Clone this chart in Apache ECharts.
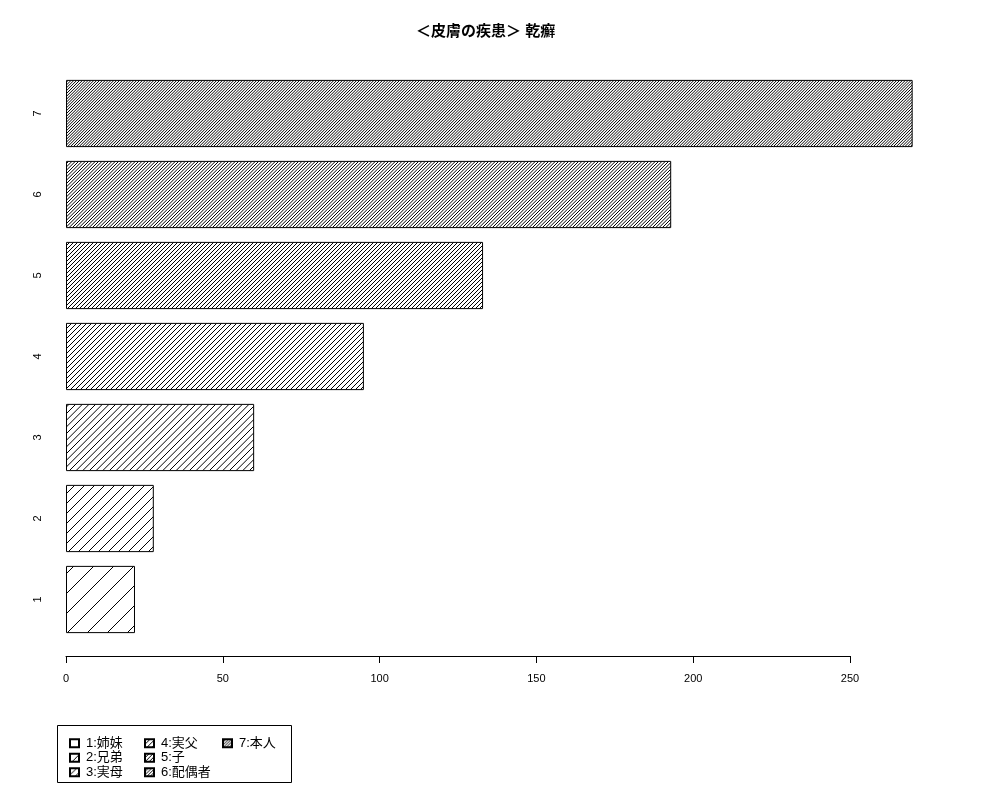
<!DOCTYPE html>
<html lang="ja">
<head>
<meta charset="UTF-8">
<title>皮膚の疾患 乾癬</title>
<script src="https://cdn.jsdelivr.net/npm/echarts@6/dist/echarts.min.js"></script>
<style>
  html, body { margin: 0; padding: 0; background: #fff; }
  #main { width: 1000px; height: 800px; }
</style>
</head>
<body>
<div id="main"></div>
<script>
var categories = ['1', '2', '3', '4', '5', '6', '7'];
var groupNames = ['1:姉妹', '2:兄弟', '3:実母', '4:実父', '5:子', '6:配偶者', '7:本人'];
var counts = [22, 28, 60, 95, 133, 193, 270];
var xTicks = [0, 50, 100, 150, 200, 250];

var FONT = '"Liberation Sans", "Noto Sans CJK JP", sans-serif';

// hatch tile: k diagonal lines per 20px
function hatch(k) {
  var s = 20;
  var c = document.createElement('canvas');
  c.width = s; c.height = s;
  var ctx = c.getContext('2d');
  ctx.fillStyle = '#fff';
  ctx.fillRect(0, 0, s, s);
  ctx.strokeStyle = '#000';
  ctx.lineWidth = 1;
  for (var i = 0; i < k; i++) {
    var o = i * s / k;
    [o, o + s, o + 2 * s].forEach(function (cc) {
      ctx.beginPath();
      ctx.moveTo(cc + 1, -1);
      ctx.lineTo(cc - s - 1, s + 1);
      ctx.stroke();
    });
  }
  return { image: c, repeat: 'repeat' };
}

var series = groupNames.map(function (name, idx) {
  return {
    name: name,
    type: 'bar',
    stack: 'all',
    xAxisIndex: 0,
    yAxisIndex: 0,
    barCategoryGap: '17%',
    itemStyle: { color: hatch(idx + 1), borderColor: '#000', borderWidth: 1 },
    emphasis: { disabled: true },
    data: counts.map(function (v, j) { return j === idx ? v : '-'; })
  };
});

function legendCol(items, left) {
  return {
    data: items,
    orient: 'vertical',
    left: left,
    top: 731,
    itemGap: 0,
    itemWidth: 9,
    itemHeight: 8,
    icon: 'rect',
    selectedMode: false,
    textStyle: { color: '#000', fontSize: 13, lineHeight: 14.5, fontFamily: FONT, padding: [0, 0, 0, 2] }
  };
}

var chart = echarts.init(document.getElementById('main'));
chart.setOption({
  animation: false,
  backgroundColor: '#fff',
  title: {
    text: '＜皮膚の疾患＞ 乾癬',
    left: 411,
    top: 19,
    textStyle: { color: '#000', fontSize: 15, fontWeight: 'bold', fontFamily: FONT }
  },
  legend: [
    legendCol(groupNames.slice(0, 3), 64),
    legendCol(groupNames.slice(3, 6), 139),
    legendCol(groupNames.slice(6), 217)
  ],
  grid: [
    { left: 66, top: 73, width: 878, height: 567 },
    { left: 66, top: 73, width: 784, height: 583 }
  ],
  xAxis: [
    { type: 'value', gridIndex: 0, min: 0, max: 280, show: false },
    {
      type: 'value', gridIndex: 1, min: xTicks[0], max: xTicks[xTicks.length - 1],
      interval: xTicks[1] - xTicks[0],
      axisLine: { show: true, lineStyle: { color: '#000', width: 1 } },
      axisTick: { show: true, length: 7, lineStyle: { color: '#000' } },
      axisLabel: { color: '#000', fontSize: 11, fontFamily: FONT, margin: 17 },
      splitLine: { show: false }
    }
  ],
  yAxis: [
    {
      type: 'category', gridIndex: 0, data: categories,
      axisLine: { show: false },
      axisTick: { show: false },
      axisLabel: { color: '#000', fontSize: 11, fontFamily: FONT, rotate: 90, margin: 23 }
    },
    { type: 'value', gridIndex: 1, min: 0, max: 1, show: false }
  ],
  graphic: [{
    type: 'rect',
    shape: { x: 57.5, y: 725.5, width: 234, height: 57 },
    style: { fill: 'none', stroke: '#000', lineWidth: 1 }
  }],
  series: series
});
</script>
</body>
</html>
